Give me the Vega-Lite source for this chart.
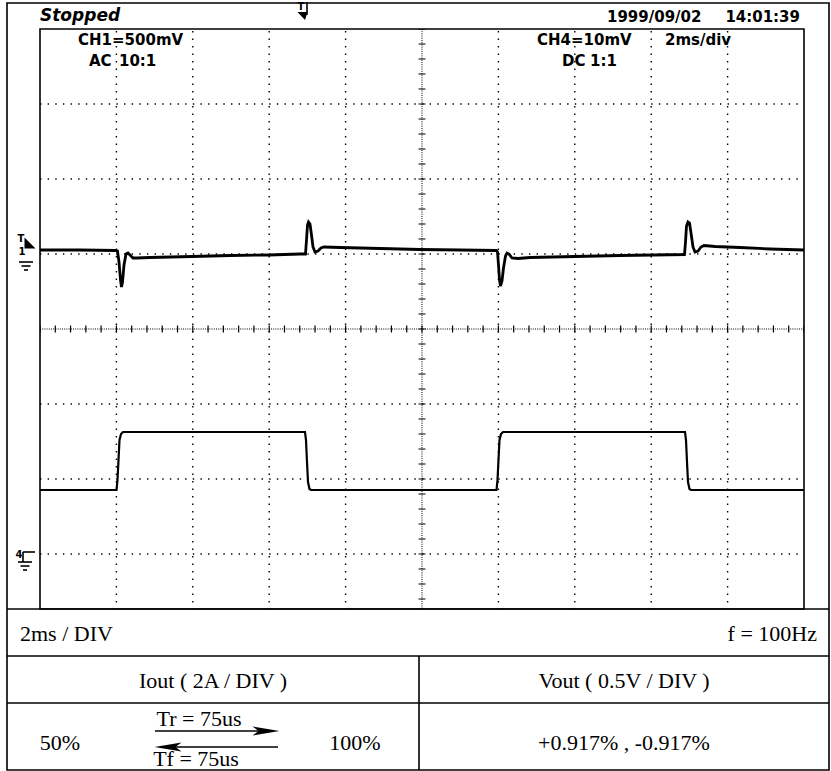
{
  "$schema": "https://vega.github.io/schema/vega-lite/v6.json",
  "width": 831,
  "height": 771,
  "autosize": {"type": "none"},
  "padding": 0,
  "background": "white",
  "config": {"view": {"stroke": null}},
  "datasets": {
    "boxes": [
      {"g": "outer", "x": -0.8639, "x2": 20.6545, "y": 4.3467, "y2": -5.88},
      {"g": "plot", "x": 0, "x2": 20, "y": 4, "y2": -3.7333}
    ],
    "seg": [
      {"g": "table", "x": -0.8639, "x2": 20.6545, "y": -3.7333, "y2": -3.7333},
      {"g": "table", "x": -0.8639, "x2": 20.6545, "y": -4.36, "y2": -4.36},
      {"g": "table", "x": -0.8639, "x2": 20.6545, "y": -4.9867, "y2": -4.9867},
      {"g": "table", "x": 9.9215, "x2": 9.9215, "y": -4.36, "y2": -5.88},
      {"g": "gh", "x": 0, "x2": 20, "y": 3, "y2": 3},
      {"g": "gh", "x": 0, "x2": 20, "y": 2, "y2": 2},
      {"g": "gh", "x": 0, "x2": 20, "y": 1, "y2": 1},
      {"g": "gh", "x": 0, "x2": 20, "y": -1, "y2": -1},
      {"g": "gh", "x": 0, "x2": 20, "y": -2, "y2": -2},
      {"g": "gh", "x": 0, "x2": 20, "y": -3, "y2": -3},
      {"g": "gv", "x": 2, "x2": 2, "y": 4, "y2": -3.7333},
      {"g": "gv", "x": 4, "x2": 4, "y": 4, "y2": -3.7333},
      {"g": "gv", "x": 6, "x2": 6, "y": 4, "y2": -3.7333},
      {"g": "gv", "x": 8, "x2": 8, "y": 4, "y2": -3.7333},
      {"g": "gv", "x": 12, "x2": 12, "y": 4, "y2": -3.7333},
      {"g": "gv", "x": 14, "x2": 14, "y": 4, "y2": -3.7333},
      {"g": "gv", "x": 16, "x2": 16, "y": 4, "y2": -3.7333},
      {"g": "gv", "x": 18, "x2": 18, "y": 4, "y2": -3.7333},
      {"g": "center", "x": 10, "x2": 10, "y": 4, "y2": -3.7333},
      {"g": "center", "x": 0, "x2": 20, "y": 0, "y2": 0},
      {"g": "tickv", "x": 10, "x2": 10, "y": 4, "y2": -3.7333},
      {"g": "tickh", "x": 0, "x2": 20, "y": 0, "y2": 0},
      {"g": "mark", "x": 6.9895, "x2": 6.9895, "y": 4.36, "y2": 4.1867},
      {"g": "mark", "x": -0.5497, "x2": -0.1832, "y": 0.8933, "y2": 0.8933},
      {"g": "mark", "x": -0.4843, "x2": -0.2487, "y": 0.84, "y2": 0.84},
      {"g": "mark", "x": -0.4188, "x2": -0.3141, "y": 0.7867, "y2": 0.7867},
      {"g": "mark", "x": -0.445, "x2": -0.445, "y": -2.9733, "y2": -3.1067},
      {"g": "mark", "x": -0.445, "x2": -0.1309, "y": -2.9733, "y2": -2.9733},
      {"g": "mark", "x": -0.5759, "x2": -0.2094, "y": -3.1067, "y2": -3.1067},
      {"g": "mark", "x": -0.5105, "x2": -0.2749, "y": -3.16, "y2": -3.16},
      {"g": "mark", "x": -0.445, "x2": -0.3403, "y": -3.2133, "y2": -3.2133},
      {"g": "arrow", "x": 3.0105, "x2": 6.0733, "y": -5.36, "y2": -5.36},
      {"g": "arrow", "x": 3.1675, "x2": 6.2304, "y": -5.5733, "y2": -5.5733}
    ],
    "vout": [
      {"x": 0, "y": 1.0533}, {"x": 1.0471, "y": 1.0533}, {"x": 1.9895, "y": 1.0467},
      {"x": 2.0288, "y": 1.04}, {"x": 2.0681, "y": 0.8933}, {"x": 2.1073, "y": 0.6533},
      {"x": 2.1335, "y": 0.56}, {"x": 2.1597, "y": 0.6267}, {"x": 2.199, "y": 0.8533},
      {"x": 2.2513, "y": 1.0}, {"x": 2.3037, "y": 1.0133}, {"x": 2.356, "y": 0.9867},
      {"x": 2.4346, "y": 0.9467}, {"x": 2.5393, "y": 0.9467}, {"x": 2.8796, "y": 0.9533},
      {"x": 3.9791, "y": 0.9667}, {"x": 4.9738, "y": 0.98}, {"x": 5.9948, "y": 0.9867},
      {"x": 6.8063, "y": 1.0}, {"x": 6.9503, "y": 1.0}, {"x": 6.9764, "y": 1.1867},
      {"x": 7.0026, "y": 1.3867}, {"x": 7.0288, "y": 1.4267}, {"x": 7.0681, "y": 1.4},
      {"x": 7.1073, "y": 1.2533}, {"x": 7.1466, "y": 1.0933}, {"x": 7.199, "y": 1.0267},
      {"x": 7.2775, "y": 1.04}, {"x": 7.356, "y": 1.08}, {"x": 7.4346, "y": 1.0933},
      {"x": 7.8534, "y": 1.0867}, {"x": 8.9005, "y": 1.0733}, {"x": 9.9476, "y": 1.06},
      {"x": 10.9948, "y": 1.0533}, {"x": 11.9503, "y": 1.0467}, {"x": 11.9764, "y": 1.0267},
      {"x": 12.0026, "y": 0.8533}, {"x": 12.0288, "y": 0.6533}, {"x": 12.055, "y": 0.5733},
      {"x": 12.0942, "y": 0.64}, {"x": 12.1335, "y": 0.8133}, {"x": 12.1859, "y": 0.9733},
      {"x": 12.2251, "y": 1.0133}, {"x": 12.2775, "y": 1.0}, {"x": 12.356, "y": 0.9467},
      {"x": 12.5131, "y": 0.94}, {"x": 12.8272, "y": 0.9533}, {"x": 14.0052, "y": 0.9667},
      {"x": 15.1832, "y": 0.98}, {"x": 16.8717, "y": 0.9933}, {"x": 16.8979, "y": 1.16},
      {"x": 16.9241, "y": 1.3733}, {"x": 16.9634, "y": 1.4267}, {"x": 17.0026, "y": 1.4133},
      {"x": 17.0419, "y": 1.28}, {"x": 17.0942, "y": 1.0933}, {"x": 17.1466, "y": 1.0267},
      {"x": 17.2251, "y": 1.04}, {"x": 17.3037, "y": 1.0933}, {"x": 17.3822, "y": 1.1133},
      {"x": 17.6702, "y": 1.1}, {"x": 18.3246, "y": 1.0867}, {"x": 19.1099, "y": 1.0667},
      {"x": 20, "y": 1.0533}
    ],
    "iout": [
      {"x": 0, "y": -2.1467}, {"x": 2.0026, "y": -2.1467}, {"x": 2.0288, "y": -2.0133},
      {"x": 2.055, "y": -1.7467}, {"x": 2.0812, "y": -1.48}, {"x": 2.1204, "y": -1.4},
      {"x": 2.1728, "y": -1.3733}, {"x": 6.9372, "y": -1.3733}, {"x": 6.9634, "y": -1.48},
      {"x": 6.9895, "y": -1.7733}, {"x": 7.0157, "y": -2.04}, {"x": 7.055, "y": -2.1333},
      {"x": 7.0942, "y": -2.1467}, {"x": 11.9503, "y": -2.1467}, {"x": 11.9764, "y": -2.0133},
      {"x": 12.0026, "y": -1.7467}, {"x": 12.0288, "y": -1.48}, {"x": 12.0681, "y": -1.4},
      {"x": 12.1204, "y": -1.3733}, {"x": 16.8848, "y": -1.3733}, {"x": 16.911, "y": -1.48},
      {"x": 16.9372, "y": -1.7733}, {"x": 16.9634, "y": -2.04}, {"x": 17.0026, "y": -2.1333},
      {"x": 17.0419, "y": -2.1467}, {"x": 20, "y": -2.1467}
    ],
    "sym": [
      {"s": "rh", "x": 5.9162, "y": -5.36},
      {"s": "lh", "x": 3.3508, "y": -5.5733},
      {"s": "trig", "x": 6.8717, "y": 4.1867},
      {"s": "ch1", "x": -0.2618, "y": 1.1467}
    ],
    "txt": [
      {"f": "stop", "label": "Stopped", "x": 0, "y": 4.1067},
      {"f": "scope", "label": "1999/09/02", "x": 14.8429, "y": 4.0933},
      {"f": "scoper", "label": "14:01:39", "x": 19.8953, "y": 4.0933},
      {"f": "scope", "label": "CH1=500mV", "x": 0.9948, "y": 3.7867},
      {"f": "scope", "label": "AC", "x": 1.2827, "y": 3.5067},
      {"f": "scope", "label": "10:1", "x": 2.0681, "y": 3.5067},
      {"f": "scope", "label": "CH4=10mV", "x": 13.0105, "y": 3.7867},
      {"f": "scope", "label": "DC", "x": 13.6649, "y": 3.5067},
      {"f": "scope", "label": "1:1", "x": 14.3979, "y": 3.5067},
      {"f": "scope", "label": "2ms/div", "x": 16.3613, "y": 3.7867},
      {"f": "mk", "label": "T", "x": 6.8325, "y": 4.2533},
      {"f": "mk", "label": "T", "x": -0.4974, "y": 1.16},
      {"f": "mk", "label": "1", "x": -0.4712, "y": 0.9867},
      {"f": "mk", "label": "4", "x": -0.5497, "y": -3.0533},
      {"f": "tl", "label": "2ms / DIV", "x": -0.5236, "y": -4.16},
      {"f": "tr", "label": "f = 100Hz", "x": 20.3403, "y": -4.16},
      {"f": "tc", "label": "Iout ( 2A / DIV )", "x": 4.5288, "y": -4.7867},
      {"f": "tc", "label": "Vout ( 0.5V / DIV )", "x": 15.288, "y": -4.7867},
      {"f": "tc", "label": "Tr = 75us", "x": 4.1623, "y": -5.2933},
      {"f": "tc", "label": "Tf = 75us", "x": 4.0838, "y": -5.8267},
      {"f": "tc", "label": "50%", "x": 0.5236, "y": -5.6133},
      {"f": "tc", "label": "100%", "x": 8.2461, "y": -5.6133},
      {"f": "tc", "label": "+0.917% , -0.917%", "x": 15.288, "y": -5.6133}
    ]
  },
  "encoding": {
    "x": {"field": "x", "type": "quantitative", "scale": {"domain": [-1.0471, 20.7068], "nice": false, "zero": false}, "axis": null},
    "y": {"field": "y", "type": "quantitative", "scale": {"domain": [-5.8933, 4.3867], "nice": false, "zero": false}, "axis": null}
  },
  "layer": [
    {
      "data": {"name": "seg"},
      "transform": [{"filter": "datum.g === 'gh'"}],
      "mark": {"type": "rule", "color": "black", "strokeWidth": 1.4, "strokeDash": [1.4, 6.24]},
      "encoding": {"x2": {"field": "x2"}, "y2": {"field": "y2"}}
    },
    {
      "data": {"name": "seg"},
      "transform": [{"filter": "datum.g === 'gv'"}],
      "mark": {"type": "rule", "color": "black", "strokeWidth": 1.4, "strokeDash": [1.4, 6.1], "strokeDashOffset": -2},
      "encoding": {"x2": {"field": "x2"}, "y2": {"field": "y2"}}
    },
    {
      "data": {"name": "seg"},
      "transform": [{"filter": "datum.g === 'center'"}],
      "mark": {"type": "rule", "color": "black", "strokeWidth": 1, "strokeDash": [1, 1.2]},
      "encoding": {"x2": {"field": "x2"}, "y2": {"field": "y2"}}
    },
    {
      "data": {"name": "seg"},
      "transform": [{"filter": "datum.g === 'tickv'"}],
      "mark": {"type": "rule", "color": "black", "strokeWidth": 7, "strokeDash": [1.2, 13.8], "strokeDashOffset": 0.6},
      "encoding": {"x2": {"field": "x2"}, "y2": {"field": "y2"}}
    },
    {
      "data": {"name": "seg"},
      "transform": [{"filter": "datum.g === 'tickh'"}],
      "mark": {"type": "rule", "color": "black", "strokeWidth": 7, "strokeDash": [1.2, 14.08], "strokeDashOffset": 0.6},
      "encoding": {"x2": {"field": "x2"}, "y2": {"field": "y2"}}
    },
    {
      "data": {"name": "boxes"},
      "mark": {"type": "rect", "fillOpacity": 0, "stroke": "black", "strokeWidth": 1.6},
      "encoding": {"x2": {"field": "x2"}, "y2": {"field": "y2"}}
    },
    {
      "data": {"name": "seg"},
      "transform": [{"filter": "datum.g === 'table' || datum.g === 'arrow' || datum.g === 'mark'"}],
      "mark": {"type": "rule", "color": "black", "strokeWidth": 1.6},
      "encoding": {"x2": {"field": "x2"}, "y2": {"field": "y2"}}
    },
    {
      "data": {"name": "vout"},
      "mark": {"type": "line", "color": "black", "strokeWidth": 2.8, "strokeJoin": "miter"},
      "encoding": {}
    },
    {
      "data": {"name": "iout"},
      "mark": {"type": "line", "color": "black", "strokeWidth": 2.2, "strokeJoin": "miter"},
      "encoding": {}
    },
    {
      "data": {"name": "sym"},
      "transform": [{"filter": "datum.s === 'rh'"}],
      "mark": {"type": "point", "filled": true, "color": "black", "opacity": 1, "strokeWidth": 0, "size": 729, "shape": "M1,0 L-1,-0.34 L-0.55,0 L-1,0.34 Z"},
      "encoding": {}
    },
    {
      "data": {"name": "sym"},
      "transform": [{"filter": "datum.s === 'lh'"}],
      "mark": {"type": "point", "filled": true, "color": "black", "opacity": 1, "strokeWidth": 0, "size": 729, "shape": "M-1,0 L1,-0.34 L0.55,0 L1,0.34 Z"},
      "encoding": {}
    },
    {
      "data": {"name": "sym"},
      "transform": [{"filter": "datum.s === 'trig'"}],
      "mark": {"type": "point", "filled": true, "color": "black", "opacity": 1, "strokeWidth": 0, "size": 100, "shape": "M-1,-0.6 L1,-0.6 L0.5,1 Z"},
      "encoding": {}
    },
    {
      "data": {"name": "sym"},
      "transform": [{"filter": "datum.s === 'ch1'"}],
      "mark": {"type": "point", "filled": true, "color": "black", "opacity": 1, "strokeWidth": 0, "size": 121, "shape": "M-1,-1 L1,1 L-1,1 Z"},
      "encoding": {}
    },
    {
      "data": {"name": "txt"},
      "transform": [{"filter": "datum.f === 'stop'"}],
      "mark": {"type": "text", "align": "left", "baseline": "alphabetic", "font": "DejaVu Sans", "fontStyle": "italic", "fontWeight": "bold", "fontSize": 17, "color": "black"},
      "encoding": {"text": {"field": "label"}}
    },
    {
      "data": {"name": "txt"},
      "transform": [{"filter": "datum.f === 'scope'"}],
      "mark": {"type": "text", "align": "left", "baseline": "alphabetic", "font": "DejaVu Sans", "fontWeight": "bold", "fontSize": 15, "color": "black"},
      "encoding": {"text": {"field": "label"}}
    },
    {
      "data": {"name": "txt"},
      "transform": [{"filter": "datum.f === 'scoper'"}],
      "mark": {"type": "text", "align": "right", "baseline": "alphabetic", "font": "DejaVu Sans", "fontWeight": "bold", "fontSize": 15, "color": "black"},
      "encoding": {"text": {"field": "label"}}
    },
    {
      "data": {"name": "txt"},
      "transform": [{"filter": "datum.f === 'mk'"}],
      "mark": {"type": "text", "align": "center", "baseline": "alphabetic", "font": "DejaVu Sans", "fontWeight": "bold", "fontSize": 10, "color": "black"},
      "encoding": {"text": {"field": "label"}}
    },
    {
      "data": {"name": "txt"},
      "transform": [{"filter": "datum.f === 'tl'"}],
      "mark": {"type": "text", "align": "left", "baseline": "alphabetic", "font": "Liberation Serif", "fontSize": 22, "color": "black"},
      "encoding": {"text": {"field": "label"}}
    },
    {
      "data": {"name": "txt"},
      "transform": [{"filter": "datum.f === 'tr'"}],
      "mark": {"type": "text", "align": "right", "baseline": "alphabetic", "font": "Liberation Serif", "fontSize": 22, "color": "black"},
      "encoding": {"text": {"field": "label"}}
    },
    {
      "data": {"name": "txt"},
      "transform": [{"filter": "datum.f === 'tc'"}],
      "mark": {"type": "text", "align": "center", "baseline": "alphabetic", "font": "Liberation Serif", "fontSize": 22, "color": "black"},
      "encoding": {"text": {"field": "label"}}
    }
  ]
}
